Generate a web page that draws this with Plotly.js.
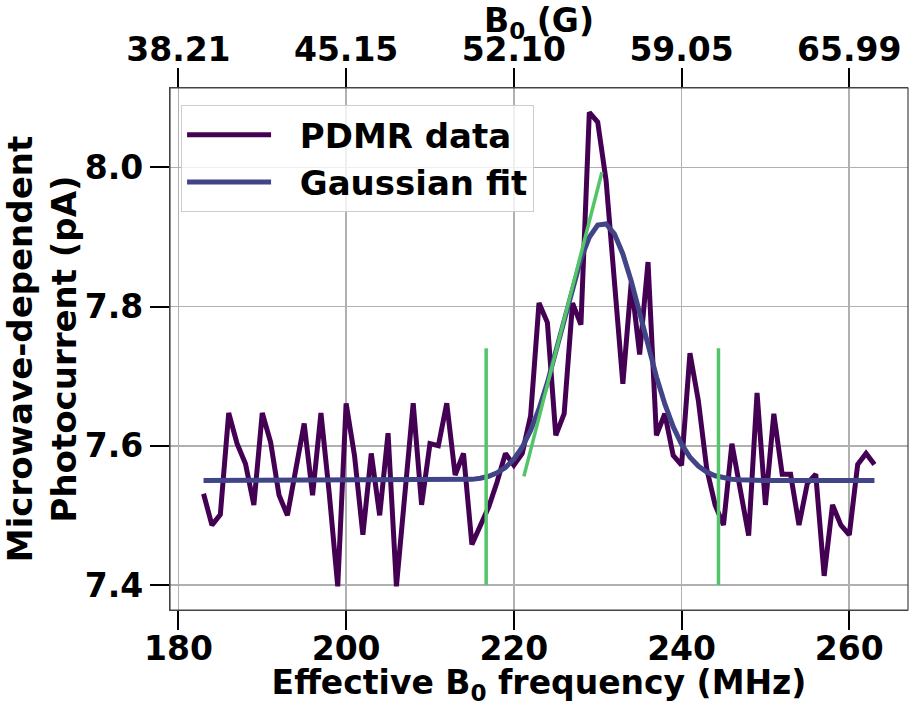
<!DOCTYPE html>
<html>
<head>
<meta charset="utf-8">
<script src="https://cdn.plot.ly/plotly-3.0.1.min.js"></script>
<style>html,body{margin:0;padding:0;background:#fff;}#chart{width:910px;height:706px;}</style>
</head>
<body>
<div id="chart"></div>
<script>
// Frequencies (MHz)
const freq = [183,184,185,186,187,188,189,190,191,192,193,194,195,196,197,198,199,200,
  201,202,203,204,205,206,207,208,209,210,211,212,213,214,215,216,217,218,219,220,
  221,222,223,224,225,226,227,228,229,230,231,232,233,234,235,236,237,238,239,240,
  241,242,243,244,245,246,247,248,249,250,251,252,253,254,255,256,257,258,259,260,
  261,262,263];
// PDMR photocurrent (pA)
const pdmr = [7.531,7.486,7.501,7.647,7.603,7.574,7.515,7.647,7.605,7.529,7.500,7.567,7.632,7.529,7.647,7.530,7.398,7.661,
  7.586,7.472,7.589,7.500,7.618,7.398,7.530,7.661,7.515,7.603,7.600,7.661,7.558,7.589,7.458,7.486,7.512,7.548,7.589,7.572,
  7.589,7.643,7.805,7.777,7.615,7.646,7.805,7.774,8.079,8.065,7.981,7.835,7.689,7.835,7.731,7.864,7.615,7.646,7.586,7.572,
  7.733,7.665,7.567,7.515,7.486,7.603,7.536,7.471,7.676,7.515,7.646,7.559,7.559,7.486,7.546,7.559,7.413,7.515,7.486,7.472,
  7.573,7.589,7.573];
// Gaussian fit curve (read values)
const fitFreq = [183,200,205,210,211,212,213,214,215,216,217,218,219,220,221,222,223,224,225,226,227,228,229,230,
  231,232,233,234,235,236,237,238,239,240,241,242,243,244,245,246,247,248,249,250,255,263];
const fitVal = [7.550,7.550,7.550,7.550,7.550,7.550,7.5504,7.5508,7.5517,7.5533,7.5561,7.5610,7.5688,7.5807,7.5980,7.6218,
  7.6529,7.6908,7.7346,7.7815,7.8277,7.8686,7.8996,7.9171,7.9187,7.9043,7.8756,7.8365,7.7909,7.7439,7.6993,7.6600,7.6274,
  7.6022,7.5837,7.5708,7.5622,7.5569,7.5537,7.5519,7.5510,7.5505,7.5502,7.5501,7.550,7.550];
// Green marker lines
const leftEdge = 216.7, rightEdge = 244.4;
const edgeY = [7.40, 7.74];
const tangentX = [221.2, 230.5];
const tangentY = [7.556, 7.993];
// Tick labels
const bottomTicks = [180,200,220,240,260];
const topTickText = ['38.21','45.15','52.10','59.05','65.99'];
const yTicks = [7.4,7.6,7.8,8.0];

const cData = '#440154', cFit = '#414487', cGreen = '#52c569';
const F = {family: 'DejaVu Sans, sans-serif', size: 33, color: '#000', weight: 'bold'};
const FT = {family: 'DejaVu Sans, sans-serif', size: 34, color: '#000', weight: 'bold'};
const NB = '\u00a0\u00a0';

const traces = [
  {x: freq, y: pdmr, mode: 'lines', name: NB + 'PDMR data', line: {color: cData, width: 5}},
  {x: fitFreq, y: fitVal, mode: 'lines', name: NB + 'Gaussian fit', line: {color: cFit, width: 5}},
  {x: [leftEdge, leftEdge], y: edgeY, mode: 'lines', showlegend: false, line: {color: cGreen, width: 3.5}},
  {x: [rightEdge, rightEdge], y: edgeY, mode: 'lines', showlegend: false, line: {color: cGreen, width: 3.5}},
  {x: tangentX, y: tangentY, mode: 'lines', showlegend: false, line: {color: cGreen, width: 3.5}},
  {x: [bottomTicks[0]], y: [yTicks[0]], xaxis: 'x2', mode: 'markers', showlegend: false, hoverinfo: 'skip', marker: {opacity: 0}}
];

const axCommon = {
  showline: true, linecolor: '#444', linewidth: 1.2, mirror: false,
  ticks: 'outside', ticklen: 19, tickwidth: 2, tickcolor: '#000',
  showgrid: true, gridcolor: '#b0b0b0', gridwidth: 1.6, zeroline: false,
  tickfont: F
};

const layout = {
  width: 910, height: 706,
  margin: {l: 170, r: 2, t: 88, b: 96},
  paper_bgcolor: '#fff', plot_bgcolor: '#fff',
  font: F,
  showlegend: true,
  xaxis: Object.assign({}, axCommon, {
    range: [179.0, 267.0], tickvals: bottomTicks, ticktext: bottomTicks.map(String),
    ticklabelstandoff: -10,
    title: {text: 'Effective B<sub>0</sub> frequency (MHz)', font: F, standoff: 9}
  }),
  xaxis2: Object.assign({}, axCommon, {
    overlaying: 'x', side: 'top', matches: 'x', range: [179.0, 267.0],
    tickvals: bottomTicks, ticktext: topTickText,
    ticklabelstandoff: -6
  }),
  yaxis: Object.assign({}, axCommon, {
    range: [7.364, 8.114], tickvals: yTicks, ticktext: yTicks.map(v => v.toFixed(1)),
    title: {text: 'Microwave-dependent<br>Photocurrent (pA)', font: FT, standoff: 0}
  }),
  annotations: [{
    text: 'B<sub>0</sub> (G)', xref: 'paper', yref: 'paper', x: 0.5, y: 1 + 88 / 522,
    xanchor: 'center', yanchor: 'top', showarrow: false, font: F, borderpad: 0
  }],
  shapes: [{type: 'rect', xref: 'paper', yref: 'paper', x0: 0, x1: 1, y0: 0, y1: 1,
            line: {color: '#444', width: 1.2}, fillcolor: 'rgba(0,0,0,0)', layer: 'above'}],
  legend: {
    x: 0.015, y: 0.967, xanchor: 'left', yanchor: 'top',
    bgcolor: 'rgba(255,255,255,0.8)', bordercolor: '#cccccc', borderwidth: 1,
    font: FT, itemwidth: 84, tracegroupgap: 0
  }
};

Plotly.newPlot('chart', traces, layout, {displayModeBar: false, staticPlot: true});
</script>
</body>
</html>
